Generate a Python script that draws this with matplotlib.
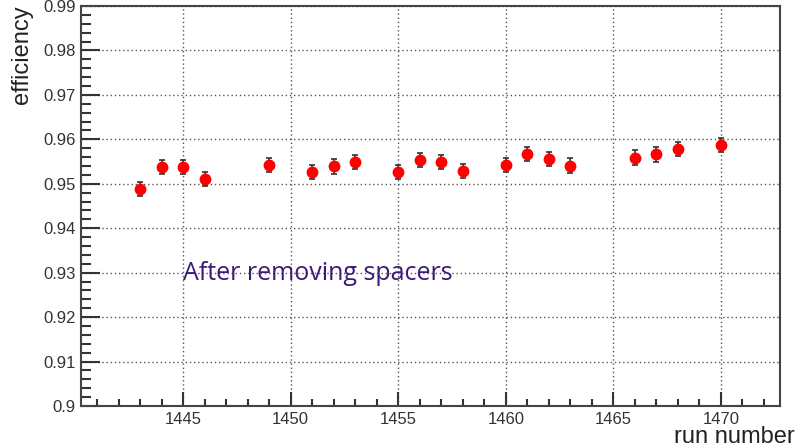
import matplotlib.pyplot as plt
from matplotlib.ticker import MultipleLocator

runs = [1443, 1444, 1445, 1446, 1449, 1451, 1452, 1453, 1455, 1456, 1457,
        1458, 1460, 1461, 1462, 1463, 1466, 1467, 1468, 1470]
eff = [0.9488, 0.9537, 0.9537, 0.9510, 0.9543, 0.9527, 0.9539, 0.9549,
       0.9527, 0.9553, 0.9549, 0.9529, 0.9543, 0.9567, 0.9556, 0.9541,
       0.9559, 0.9566, 0.9578, 0.9588]
err = [0.0016] * len(runs)

x_ticks = [1445, 1450, 1455, 1460, 1465, 1470]
y_ticks = [0.90, 0.91, 0.92, 0.93, 0.94, 0.95, 0.96, 0.97, 0.98, 0.99]

fig = plt.figure(figsize=(7.98, 4.48), dpi=100)
ax = fig.add_axes([81 / 798, 1 - 406 / 448, (780 - 81) / 798, (406 - 6) / 448])

ax.errorbar(runs, eff, yerr=err, fmt="o", color="red", markersize=7.5,
            ecolor="#333333", elinewidth=1.2, capsize=2, capthick=1.2, zorder=3)

ax.set_xlim(1440.25, 1472.75)
ax.set_ylim(0.90, 0.99)
ax.set_xticks(x_ticks)
ax.set_yticks(y_ticks)
ax.set_yticklabels([f"{v:g}" for v in y_ticks])
ax.xaxis.set_minor_locator(MultipleLocator(1))
ax.yaxis.set_minor_locator(MultipleLocator(0.002))

ax.tick_params(axis="both", which="both", direction="in", colors="#333333",
               labelcolor="#333333", labelsize=12, width=1.5,
               top=False, right=False)
ax.tick_params(axis="y", which="major", length=14, pad=4)
ax.tick_params(axis="y", which="minor", length=7)
ax.tick_params(axis="x", which="major", length=10, pad=4)
ax.tick_params(axis="x", which="minor", length=5)
for lab in ax.get_xticklabels() + ax.get_yticklabels():
    lab.set_fontfamily("Liberation Sans")

for s in ax.spines.values():
    s.set_linewidth(1.5)
    s.set_color("#444444")

ax.grid(True, which="major", linestyle=(0, (1, 2)), color="#555555", linewidth=1)
ax.set_axisbelow(True)

ax.text(1445, 0.9298, "After removing spacers", fontsize=18, color="#3b1a78",
        family="Open Sans", va="center", ha="left")

fig.text(22 / 798, 1 - 5 / 448, "efficiency", rotation=90, ha="center", va="top",
         fontsize=17, family="Liberation Sans", color="#222222")
fig.text(795 / 798, 1 - 437 / 448, "run number", ha="right", va="center",
         fontsize=17, family="Liberation Sans", color="#222222")

fig.savefig("out.png", dpi=100)
